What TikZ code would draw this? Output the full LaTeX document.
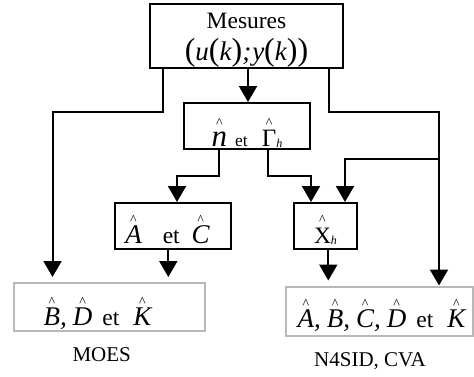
\documentclass[tikz,border=0pt]{standalone}
\usepackage{fontspec}
\setmainfont{Liberation Serif}
\usepackage{graphicx}
\usetikzlibrary{arrows.meta}

\newcommand{\hatx}[1]{\leavevmode\setbox0=\hbox{#1}\rlap{\hbox to \wd0{\hss\raisebox{19bp}{\fontsize{14bp}{14bp}\selectfont\textasciicircum}\hss}}\box0}
\newcommand{\mi}[1]{{\fontsize{27bp}{27bp}\selectfont\itshape #1}}
\newcommand{\bpar}[1]{{\fontsize{32bp}{32bp}\selectfont\smash{#1}}}
\newcommand{\subh}{\raisebox{-1bp}{\fontsize{12bp}{12bp}\selectfont\itshape h}}

\tikzset{
  blk/.style={draw=black, line width=2bp, inner sep=0pt, anchor=base,
    font=\fontsize{23.5bp}{28bp}\selectfont},
  gry/.style={draw=black!28, line width=2bp, inner sep=0pt, anchor=base,
    font=\fontsize{23.5bp}{28bp}\selectfont},
  lbl/.style={inner sep=0pt, anchor=base, font=\fontsize{21bp}{24bp}\selectfont},
  arr/.style={line width=2bp, -{Triangle[width=18bp,length=16bp]}},
}

\begin{document}
\begin{tikzpicture}[x=1bp,y=-1bp]
\useasboundingbox (0,0) rectangle (474,376);

% boxes
\node[blk, minimum width=193bp, text height=56bp, text depth=8bp] (top) at (246.5,60)
  {{\fontsize{23.5bp}{32bp}\selectfont\begin{tabular}[b]{@{}c@{}}Mesures\\
   \bpar{(}\mi{u}\bpar{(}\mi{k}\bpar{)}\mi{;}\hspace{1bp}\mi{y}\bpar{(}\mi{k}\bpar{)}\bpar{)}\end{tabular}}};

\node[blk, minimum width=126bp, text height=43.5bp, text depth=2.5bp] (n) at (247,146.5)
  {\hatx{{\fontsize{31bp}{31bp}\selectfont\itshape n}}\hspace{8bp}{\fontsize{17.5bp}{18bp}\selectfont et}\hspace{14bp}\hatx{{\fontsize{25bp}{25bp}\selectfont Γ}}\subh};

\node[blk, minimum width=116bp, text height=40.5bp, text depth=5.5bp] (ac) at (173,243.5)
  {\hatx{\mi{A}}\hspace{21bp}et\hspace{12bp}\hatx{\mi{C}}\kern11bp};

\node[blk, minimum width=63bp, text height=40.5bp, text depth=5.5bp] (xh) at (325.5,243.5)
  {\hatx{X}\subh};

\node[gry, minimum width=191bp, text height=42.5bp, text depth=6bp] (bdk) at (109.5,325)
  {\hatx{\mi{B}}\mi{,}\hspace{6bp}\hatx{\mi{D}}\hspace{10bp}et\hspace{14bp}\hatx{\mi{K}}\kern24bp};

\node[gry, minimum width=187bp, text height=40.5bp, text depth=8.5bp] (all) at (379.5,327)
  {\kern4bp\hatx{\mi{A}}\mi{,}\hspace{6bp}\hatx{\mi{B}}\mi{,}\hspace{6bp}\hatx{\mi{C}}\mi{,}\hspace{6bp}\hatx{\mi{D}}\hspace{10bp}et\hspace{14bp}\hatx{\mi{K}}};

% labels
\node[lbl] (moes) at (101.7,361) {MOES};
\node[lbl] (n4) at (370,366) {N4SID, CVA};

% guide coordinates
\coordinate (xa) at (163,0);
\coordinate (xb) at (328.5,0);
\coordinate (xc) at (248,0);
\coordinate (bl) at (52.5,112);
\coordinate (br) at (439,112);
\coordinate (bb) at (439,159);
\coordinate (xd) at (345,0);
\coordinate (xe) at (219,0);
\coordinate (xf) at (268.3,0);
\coordinate (q1) at (177,176);
\coordinate (q2) at (311,176);
\coordinate (xg) at (168.3,0);
\coordinate (xk) at (328.3,0);

% connectors
\draw[arr, shorten >=4.5bp] (top.south -| xa) |- (bl) -- (bl |- bdk.north);
\draw[arr] (top.south -| xc) -- (xc |- n.north);
\draw[arr] (top.south -| xb) |- (br) -- (br |- all.north);
\draw[arr] (bb) -| (xd |- xh.north);
\draw[arr] (n.south -| xe) |- (q1) -- (q1 |- ac.north);
\draw[arr] (n.south -| xf) |- (q2) -- (q2 |- xh.north);
\draw[arr, shorten >=4.5bp] (ac.south -| xg) -- (xg |- bdk.north);
\draw[arr, shorten >=5bp] (xh.south -| xk) -- (xk |- all.north);
\end{tikzpicture}
\end{document}
